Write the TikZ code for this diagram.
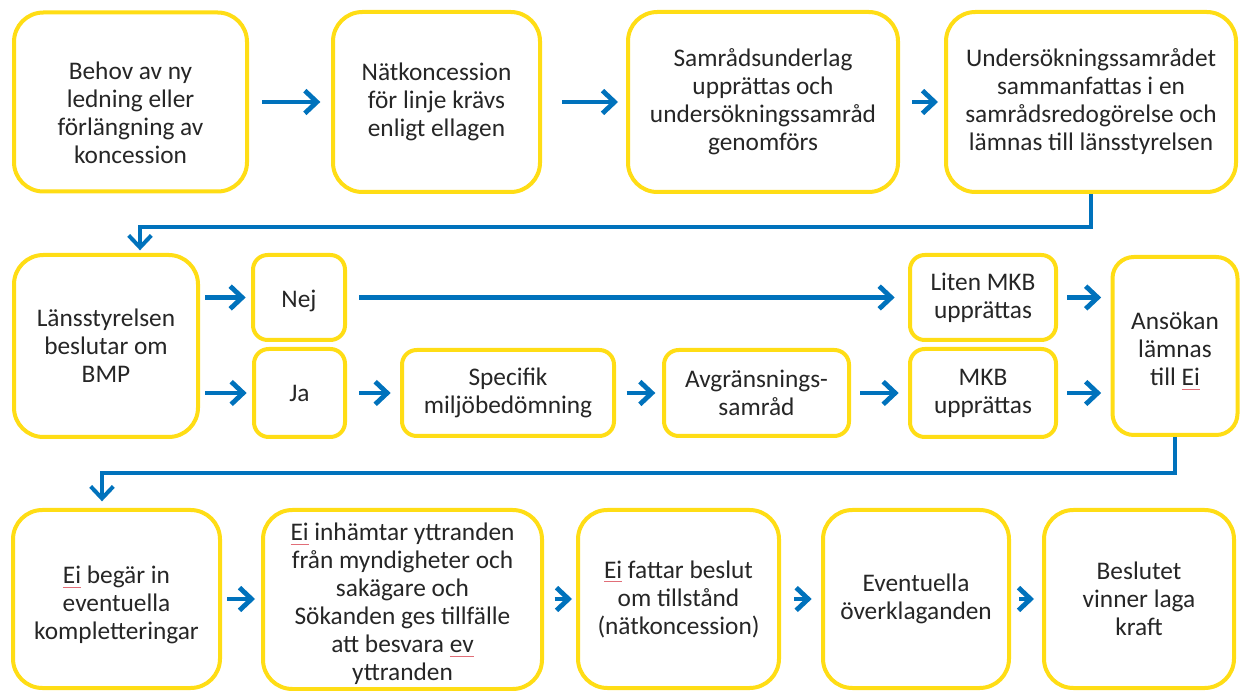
\documentclass[tikz,border=0pt]{standalone}
\usepackage{fontspec}
\setmainfont{Carlito}
\usepackage{tikz}
\usetikzlibrary{arrows.meta}

\definecolor{boxyellow}{RGB}{255,221,21}
\definecolor{flowblue}{RGB}{0,114,188}
\definecolor{markred}{RGB}{225,110,120}

% spell-check squiggle under a word
\newcommand{\spellmark}[1]{\setbox0=\hbox{#1}\rlap{\textcolor{markred}{\rule[-3pt]{\wd0}{0.6pt}}}\box0\relax}

\tikzset{
  stage/.style={draw=boxyellow, line width=3pt, rounded corners=22pt, fill=white, align=center, inner sep=0pt, text=black!85, font=\fontsize{19}{21}\selectfont},
  smallstage/.style={stage, rounded corners=11pt},
  flow/.style={draw=flowblue, line width=3.6pt, -{Straight Barb[length=9pt,width=17pt]}},
}

\begin{document}
\begin{tikzpicture}[x=0.75pt,y=0.75pt,yscale=-1,xscale=1]
    \useasboundingbox (0,0) rectangle (1243,691);

    % Row 1
    \node[stage, minimum width=174.75pt, minimum height=134.25pt] (behov) at (130.5,102) {\rule{0pt}{30pt}Behov av ny\\ledning eller\\förlängning av\\koncession};
    \node[stage, minimum width=155.25pt, minimum height=135pt] (natkonc) at (436.5,102) {Nätkoncession\\för linje krävs\\enligt ellagen};
    \node[stage, minimum width=202.5pt, minimum height=135pt] (samrad) at (763,102) {Samrådsunderlag\\upprättas och\\undersökningssamråd\\genomförs};
    \node[stage, minimum width=217.5pt, minimum height=135pt] (undersok) at (1091,102) {Undersökningssamrådet\\sammanfattas i en\\samrådsredogörelse och\\lämnas till länsstyrelsen};

    % Row 2
    \node[stage, minimum width=138pt, minimum height=136.5pt] (lans) at (106,346) {Länsstyrelsen\\beslutar om\\BMP};
    \node[smallstage, minimum width=69pt, minimum height=63.75pt] (nej) at (299,297.5) {\rule{0pt}{18pt}Nej};
    \node[smallstage, minimum width=68.25pt, minimum height=66pt] (ja) at (299.5,393) {Ja};
    \node[smallstage, minimum width=159pt, minimum height=64.5pt] (specifik) at (508,393) {Specifik\\miljöbedömning};
    \node[smallstage, minimum width=138.75pt, minimum height=64.5pt] (avgr) at (756.5,393) {Avgränsnings-\\samråd};
    \node[smallstage, minimum width=109.5pt, minimum height=63.75pt] (liten) at (983,297.5) {Liten MKB\\upprättas};
    \node[smallstage, minimum width=109.5pt, minimum height=66pt] (mkb) at (983,393) {MKB\\upprättas};
    \node[stage, rounded corners=16pt, minimum width=93.75pt, minimum height=133.5pt] (ansokan) at (1175,346) {\rule{0pt}{20pt}Ansökan\\lämnas\\till \spellmark{Ei}};

    % Row 3
    \node[stage, minimum width=155.25pt, minimum height=133.5pt] (begar) at (116.5,599) {\rule{0pt}{22pt}\spellmark{Ei} begär in\\eventuella\\kompletteringar};
    \node[stage, minimum width=209.25pt, minimum height=134.25pt] (inhamtar) at (402.5,599.5) {\rule{0pt}{20pt}\spellmark{Ei} inhämtar yttranden\\från myndigheter och\\sakägare och\\Sökanden ges tillfälle\\att besvara \spellmark{ev}\\yttranden};
    \node[stage, minimum width=150.75pt, minimum height=133.5pt] (fattar) at (678.5,599) {\spellmark{Ei} fattar beslut\\om tillstånd\\(nätkoncession)};
    \node[stage, minimum width=139.5pt, minimum height=133.5pt] (eventuella) at (916,599) {Eventuella\\överklaganden};
    \node[stage, minimum width=142.5pt, minimum height=133.5pt] (beslutet) at (1139,599) {Beslutet\\vinner laga\\kraft};

    % Bends
    \coordinate (bend1) at (140,227);
    \coordinate (bend2) at (102,473);

    % Arrows row 1
    \draw[flow, shorten <=10pt, shorten >=8pt] (behov) -- (natkonc);
    \draw[flow, shorten <=15pt, shorten >=6pt] (natkonc) -- (samrad);
    \draw[flow, shorten <=9pt, shorten >=4.5pt] (samrad) -- (undersok);
    \draw[flow, line width=3pt, shorten >=2pt] (undersok.south) |- (bend1) -- (bend1 |- lans.north);

    % Arrows row 2
    \draw[flow, shorten <=4pt, shorten >=4pt] (lans.east |- nej.west) -- (nej.west);
    \draw[flow, shorten <=4pt, shorten >=4pt] (lans.east |- ja.west) -- (ja.west);
    \draw[flow, shorten <=9pt, shorten >=10pt] (nej) -- (liten);
    \draw[flow, shorten <=9pt, shorten >=7pt] (ja) -- (specifik);
    \draw[flow, shorten <=8pt, shorten >=5pt] (specifik) -- (avgr);
    \draw[flow, shorten <=7pt, shorten >=7pt] (avgr) -- (mkb);
    \draw[flow, shorten <=7pt, shorten >=7pt] (liten.east) -- (liten.east -| ansokan.west);
    \draw[flow, shorten <=7pt, shorten >=7pt] (mkb.east) -- (mkb.east -| ansokan.west);
    \draw[flow, line width=3pt, shorten >=5pt] (ansokan.south) |- (bend2) -- (bend2 |- begar.north);

    % Arrows row 3
    \draw[flow, shorten <=4pt, shorten >=4.5pt] (begar.east) -- (begar.east -| inhamtar.west);
    \draw[flow, shorten <=8pt, shorten >=3pt] (inhamtar.east |- fattar.west) -- (fattar.west);
    \draw[flow, shorten <=10pt, shorten >=7pt] (fattar) -- (eventuella);
    \draw[flow, shorten <=6pt, shorten >=6pt] (eventuella) -- (beslutet);
\end{tikzpicture}
\end{document}
